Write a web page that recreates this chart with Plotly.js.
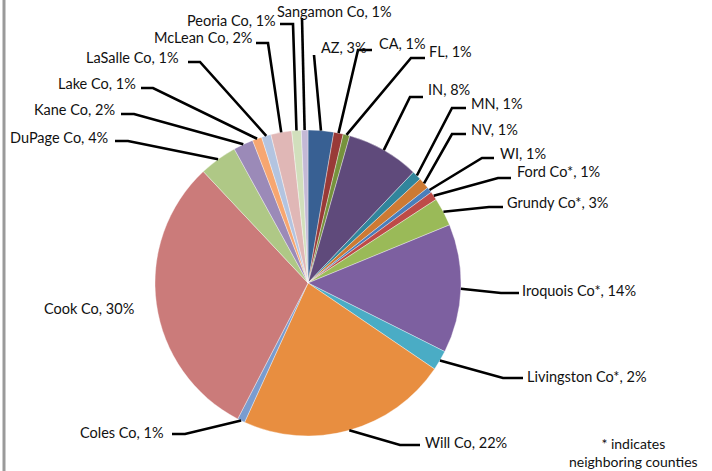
<!DOCTYPE html>
<html>
<head>
<meta charset="utf-8">
<script src="https://cdn.plot.ly/plotly-3.0.1.min.js"></script>
<style>html,body{margin:0;padding:0;background:#fff;}#chart{width:712px;height:471px;}</style>
</head>
<body>
<div id="chart"></div>
<script>
// ---- data ----
var categories = ["AZ","CA","FL","IN","MN","NV","WI","Ford Co*","Grundy Co*","Iroquois Co*","Livingston Co*","Will Co","Coles Co","Cook Co","DuPage Co","Kane Co","Lake Co","LaSalle Co","McLean Co","Peoria Co","Sangamon Co"];
var values = [2.7,1.0,0.7,7.7,1.0,1.2,0.6,0.9,3.0,13.6,2.1,22.3,0.8,30.4,4.0,2.1,1.0,1.0,2.2,1.0,0.7];
var colors = ["#386093","#993A37","#76923C","#5F4A7B","#31859C","#CD7A33","#4A7EBB","#BE4B48","#9ABA58","#7D60A0","#4AACC5","#E88E40","#7A9CCF","#CB7B7A","#AFC886","#9B8AB8","#F7A670","#B3C4E0","#E0B7B6","#D1DFBC","#C4B9D6"];
var footnote = "* indicates<br>neighboring counties";

// ---- layout of labels (pixel positions) ----
var W = 712, H = 471;
var cx = 308, cy = 283, R = 153;
// text x, text y, anchor, elbow x, segment end x, line y (null = no leader)
var labelTX = [319,377,427,426,469,469,498,515,505,520,525,423,166,136,110,117,138,181,254,278,334];
var labelTY = [48,44,52,90,104,130,154,172,202,290,376,442,432,308,138,110,84,58,38,21,12];
var labelAnchor = ["left","left","left","left","left","left","left","left","left","left","left","left","right","right","right","right","right","right","right","right","center"];
var elbowX = [314,358,411,410,452,452,482,498,489,501,503,400,185,null,128,134,153,200,268,293,302];
var endX   = [314,372,425,423,466,466,494,511,503,519,523,420,172,null,115,121,141,188,256,280,302];
var lineY  = [55,50,58,97,108,134,158,178,207,293,378,445,434,null,141,114,88,62,43,24,18];

function px(x){return x/W;}
function py(y){return 1 - y/H;}

var total = values.reduce(function(a,b){return a+b;},0);
var annotations = [], shapes = [];
var cum = 0;
for (var i=0;i<values.length;i++){
  var mid = (cum + values[i]/2)/total*2*Math.PI;
  cum += values[i];
  var ax = cx + R*Math.sin(mid), ay = cy - R*Math.cos(mid);
  var pct = Math.round(values[i]/total*100);
  annotations.push({
    xref:'paper', yref:'paper', x:px(labelTX[i]), y:py(labelTY[i]),
    xanchor:labelAnchor[i], yanchor:'middle', showarrow:false,
    text: categories[i] + ", " + pct + "%",
    font:{family:'Lato, "Liberation Sans", sans-serif', size:14.5, color:'#111'}
  });
  if (elbowX[i] !== null){
    var p = 'M '+px(ax)+','+py(ay)+' L '+px(elbowX[i])+','+py(lineY[i])+' L '+px(endX[i])+','+py(lineY[i]);
    shapes.push({type:'path', xref:'paper', yref:'paper', path:p, line:{color:'#000', width:2.6}});
  }
}
// left border
shapes.push({type:'line', xref:'paper', yref:'paper', x0:px(4), x1:px(4), y0:0, y1:1, line:{color:'#9a9a9a', width:3}});
annotations.push({xref:'paper', yref:'paper', x:px(633), y:py(452), xanchor:'center', yanchor:'middle', showarrow:false,
  text:footnote, font:{family:'Lato, "Liberation Sans", sans-serif', size:14, color:'#111'}});

var trace = {
  type:'pie', labels:categories, values:values, sort:false, direction:'clockwise', rotation:0,
  marker:{colors:colors, line:{color:'rgba(255,255,255,0.6)', width:0.6}},
  textinfo:'none', hoverinfo:'label+percent',
  domain:{x:[px(cx-R), px(cx+R)], y:[py(cy+R), py(cy-R)]}
};
var layout = {
  width:W, height:H, margin:{l:0,r:0,t:0,b:0}, showlegend:false,
  paper_bgcolor:'#fff', plot_bgcolor:'#fff',
  annotations:annotations, shapes:shapes
};
Plotly.newPlot('chart',[trace],layout,{displayModeBar:false, staticPlot:true});
</script>
</body>
</html>
